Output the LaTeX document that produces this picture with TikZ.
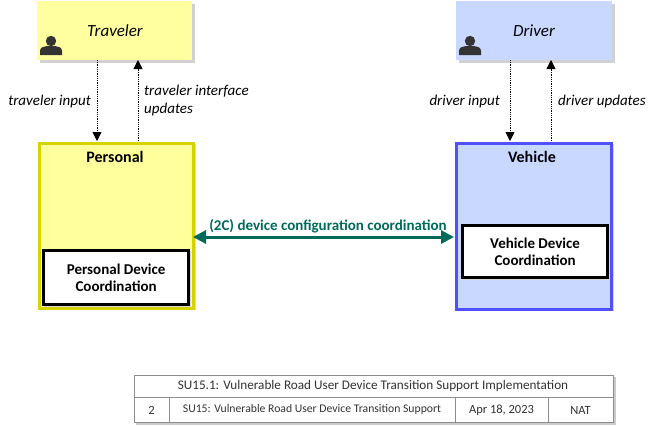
\documentclass[tikz,border=0pt]{standalone}
\usepackage{fontspec}
\setmainfont{Carlito}
\usetikzlibrary{arrows.meta}
\definecolor{yfill}{HTML}{FFFF9C}
\definecolor{ytop}{HTML}{FFFFA0}
\definecolor{yborder}{HTML}{D4D400}
\definecolor{bfill}{HTML}{C8D8FF}
\definecolor{bborder}{HTML}{5050FF}
\definecolor{teal}{HTML}{006A5A}
\definecolor{icon}{HTML}{333333}
\definecolor{tgray}{HTML}{8C8C8C}
\tikzset{
  x=1pt,y=-1pt,
  actor/.style={draw=none,minimum width=155pt,minimum height=59pt,inner sep=0pt},
  sysbox/.style={line width=2.6pt,minimum width=154pt,minimum height=165pt,inner sep=0pt},
  funbox/.style={draw=black,fill=white,line width=2.6pt,minimum width=145pt,minimum height=54pt,inner sep=0pt,align=center,font=\fontsize{15}{17.5}\selectfont\bfseries},
  flow/.style={densely dotted,line width=0.8pt,-{Triangle[length=9pt,width=9pt]}},
  flab/.style={font=\fontsize{15}{18}\selectfont\itshape,inner sep=0pt,align=left},
  tcell/.style={font=\fontsize{11.7}{14}\selectfont,text=black!80,inner sep=0pt}
}
\begin{document}
\begin{tikzpicture}
\useasboundingbox (0,0) rectangle (654,426);
% actors
\fill[black!18] (40,4) rectangle (195,63);
\node[actor,fill=ytop,anchor=north west] (trav) at (37,1) {};
\node[font=\fontsize{17}{20}\selectfont\itshape] (travl) at (115,31) {Traveler};
\fill[black!18] (459,4) rectangle (615,63);
\node[actor,fill=bfill,anchor=north west,minimum width=156pt] (drv) at (456,1) {};
\node[font=\fontsize{17}{20}\selectfont\itshape] (drvl) at (534,31) {Driver};
% person icons
\foreach \px in {40,459}{
  \fill[icon] (\px+11,41) circle (5.2);
  \fill[icon] (\px,55) -- (\px,51) .. controls (\px,47) and (\px+4,46.5) .. (\px+7,46) -- (\px+15,46) .. controls (\px+18,46.5) and (\px+22,47) .. (\px+22,51) -- (\px+22,55) -- cycle;
}
% systems
\fill[black!15] (40,144) rectangle (196,310);
\node[sysbox,draw=yborder,fill=yfill,anchor=north west] (pers) at (38.3,142.3) {};
\node[font=\fontsize{16}{19}\selectfont\bfseries] (persl) at (115,157) {Personal};
\fill[black!15] (457,144) rectangle (614,311);
\node[sysbox,draw=bborder,fill=bfill,anchor=north west,minimum width=155pt,minimum height=166pt] (veh) at (455.3,142.3) {};
\node[font=\fontsize{16}{19}\selectfont\bfseries] (vehl) at (532,157) {Vehicle};
% functional objects
\fill[black!15] (44,251) rectangle (191,307);
\node[funbox,anchor=north west] (pdc) at (42.3,249.3) {Personal Device\\Coordination};
\fill[black!15] (463,226) rectangle (610,280);
\node[funbox,anchor=north west,minimum height=52pt] (vdc) at (461.3,224.3) {Vehicle Device\\Coordination};
% flows
\coordinate (t1) at (97,60); \coordinate (t2) at (97,141);
\coordinate (t3) at (138,141); \coordinate (t4) at (138,60);
\draw[flow] (t1) -- (t2);
\draw[flow] (t3) -- (t4);
\node[flab,anchor=east] (til) at (91,101) {traveler input};
\node[flab,anchor=west] (tiu) at (144,100) {traveler interface\\updates};
\coordinate (d1) at (510,60); \coordinate (d2) at (510,141);
\coordinate (d3) at (551,141); \coordinate (d4) at (551,60);
\draw[flow] (d1) -- (d2);
\draw[flow] (d3) -- (d4);
\node[flab,anchor=east] (dil) at (500,101) {driver input};
\node[flab,anchor=west] (dul) at (558,101) {driver updates};
% interface flow
\coordinate (a1) at (193,237); \coordinate (a2) at (454,237);
\draw[teal,line width=3pt,{Triangle[length=13pt,width=13pt]}-{Triangle[length=13pt,width=13pt]}] (a1) -- (a2);
\node[text=teal,font=\fontsize{15}{18}\selectfont\bfseries] (fl) at (328,226) {(2C) device configuration coordination};
% title table
\fill[black!20] (136,377) rectangle (616,425);
\node[draw=tgray,fill=white,line width=0.8pt,minimum width=479pt,minimum height=47pt,anchor=north west,inner sep=0pt] (tbl) at (134,375) {};
\draw[tgray,line width=0.8pt] (134,397) -- (613,397);
\draw[tgray,line width=0.8pt] (169,397) -- (169,422);
\draw[tgray,line width=0.8pt] (455,397) -- (455,422);
\draw[tgray,line width=0.8pt] (548,397) -- (548,422);
\node[tcell,font=\fontsize{13.2}{15}\selectfont] (r1) at (373,386) {SU15.1: Vulnerable Road User Device Transition Support Implementation};
\node[tcell,font=\fontsize{12.5}{15}\selectfont] (c1) at (151.5,410) {2};
\node[tcell] (c2) at (312,409) {SU15: Vulnerable Road User Device Transition Support};
\node[tcell,font=\fontsize{12.5}{15}\selectfont] (c3) at (501.5,410) {Apr 18, 2023};
\node[tcell,font=\fontsize{12.5}{15}\selectfont] (c4) at (580.5,410) {NAT};
\end{tikzpicture}
\end{document}
